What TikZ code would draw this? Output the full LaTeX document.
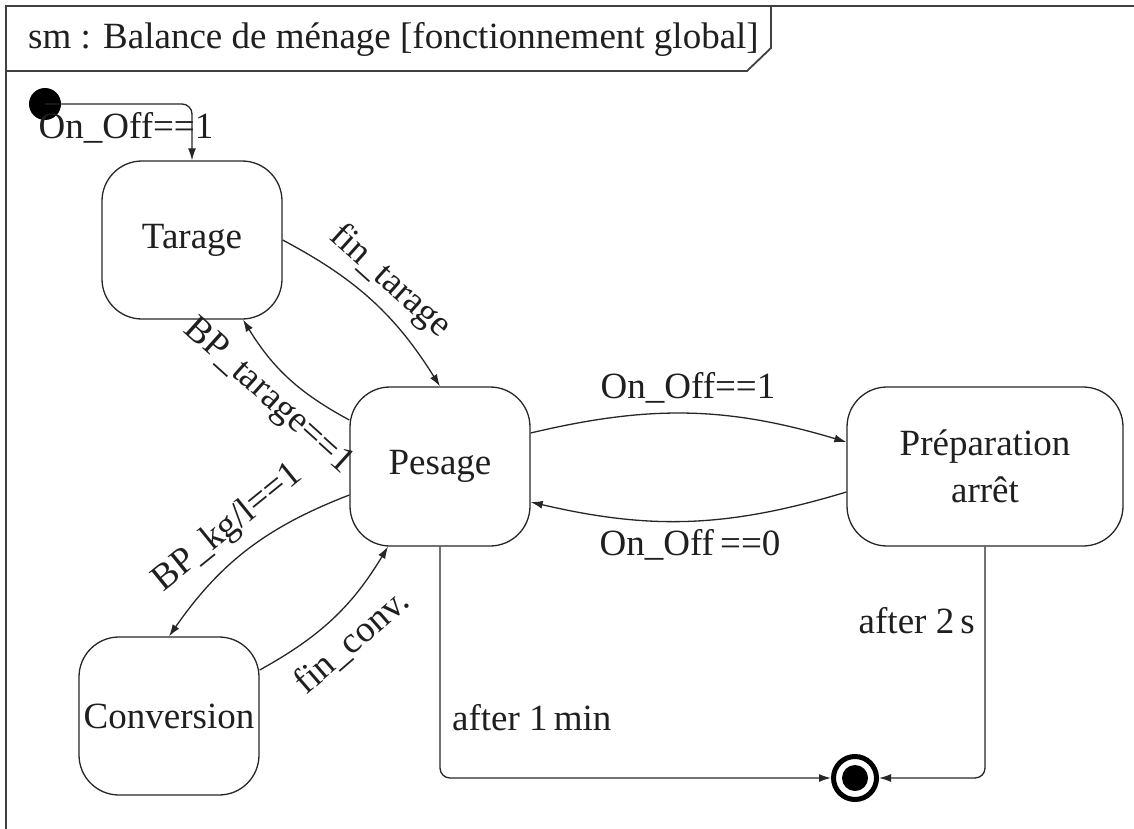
\documentclass[tikz,border=0pt]{standalone}
\usepackage{fontspec}
\setmainfont{Liberation Serif}
\usetikzlibrary{arrows.meta}
\begin{document}
\begin{tikzpicture}[x=1pt,y=-1pt,
  every node/.style={font=\fontsize{37}{47}\selectfont, text=black!88},
  statebox/.style={draw=black!85, line width=1.3pt, rounded corners=40pt, align=center, inner sep=0pt},
  trans/.style={draw=black!85, line width=1.3pt, -{Latex[length=12pt,width=8pt]}},
  lbl/.style={inner sep=0pt},
  framepen/.style={draw=black!75, line width=1.8pt}]
\useasboundingbox (0,0) rectangle (1134,829);

% diagram frame and its name tab
\draw[framepen] (6,829) -- (6,6) -- (1134,6);
\draw[framepen] (6,71) -- (747,71) -- (771,48) -- (771,6);
\node[lbl, anchor=west] (title) at (28,39) {sm : Balance de ménage [fonctionnement global]};

% states
\node[statebox, minimum width=180pt, minimum height=158pt] (tarage) at (192,240) {Tarage};
\node[statebox, minimum width=180pt, minimum height=159pt] (pesage) at (440,466.5) {Pesage};
\node[statebox, minimum width=180pt, minimum height=158pt] (conv) at (169,716) {Conversion};
\node[statebox, minimum width=276pt, minimum height=159pt] (prep) at (985,466.5) {\raisebox{-5pt}{Préparation}\\\raisebox{-5pt}{arrêt}};

% pseudo states
\node[circle, fill=black, minimum size=32pt, inner sep=0pt] (init) at (45,104) {};
\node[circle, draw=black, line width=5pt, minimum size=43pt, inner sep=0pt] (final) at (855,778) {};
\node[circle, fill=black, minimum size=26pt, inner sep=0pt] (finaldot) at (final) {};

% transitions
\draw[trans, rounded corners=10pt] (init.center) -| (tarage.north);
\node[lbl] (l_init) at (126,128) {On\_Off==1};

\draw[trans] (tarage.east) to[bend left=15] (pesage.north);
\node[lbl, rotate=-42] (l_fintar) at (390,282) {fin\_tarage};

\draw[trans] ([yshift=46.5pt]pesage.west) to[bend left=15] ([xshift=51pt]tarage.south);
\node[lbl, rotate=-42] (l_bptar) at (268,397) {BP\_tarage==1};

\draw[trans] ([yshift=-28.5pt]pesage.west) to[bend right=17] (conv.north);
\node[lbl, rotate=39] (l_bpkg) at (228,528) {BP\_kg/l==1};

\draw[trans] ([yshift=46pt]conv.east) to[bend right=15] ([xshift=-52pt]pesage.south);
\node[lbl, rotate=41] (l_finconv) at (352,642) {fin\_conv.};

\draw[trans] ([yshift=33.5pt]pesage.east) to[bend left=15] ([yshift=24.5pt]prep.west);
\node[lbl] (l_on) at (688,388) {On\_Off==1};

\draw[trans] ([yshift=-25.5pt]prep.west) to[bend left=15] ([yshift=-35.5pt]pesage.east);
\node[lbl] (l_off) at (690,545) {On\_Off\,==0};

\draw[trans, rounded corners=10pt] (pesage.south) |- (final.west);
\node[lbl, anchor=west] (l_1min) at (452,718) {after 1\,min};

\draw[trans, rounded corners=10pt] (prep.south) |- (final.east);
\node[lbl, anchor=east] (l_2s) at (975,621) {after 2\,s};
\end{tikzpicture}
\end{document}
